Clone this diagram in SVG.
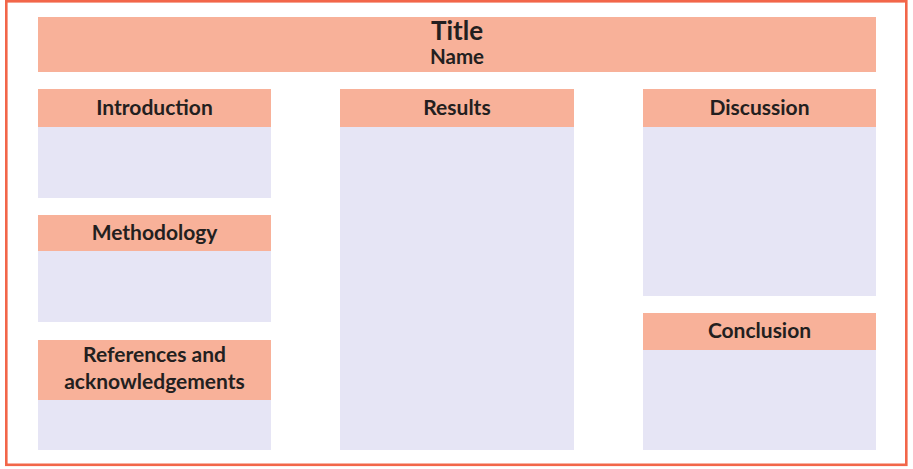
<svg xmlns="http://www.w3.org/2000/svg" width="913" height="469" viewBox="0 0 913 469">
<style>
.hd{fill:#F8B199}
.bd{fill:#E6E5F5}
.t{font-family:Lato,"Open Sans",sans-serif;font-weight:bold;fill:#231F20;text-anchor:middle;font-size:21px}
</style>
<rect x="0" y="0" width="913" height="469" fill="#fff"/>
<rect x="6.3" y="1.3" width="900" height="463.5" fill="#fff" stroke="#F26649" stroke-width="2.6"/>
<g id="title">
<rect class="hd" x="38" y="17" width="838" height="55"/>
<text class="t" x="457" y="39.5" style="font-size:26px">Title</text>
<text class="t" x="457" y="63.5" style="font-size:20.5px">Name</text>
</g>
<g id="introduction">
<rect class="hd" x="38" y="89" width="233" height="38"/>
<rect class="bd" x="38" y="127" width="233" height="71"/>
<text class="t" x="154.5" y="115">Introduction</text>
</g>
<g id="methodology">
<rect class="hd" x="38" y="215" width="233" height="36"/>
<rect class="bd" x="38" y="251" width="233" height="71"/>
<text class="t" x="154.5" y="240">Methodology</text>
</g>
<g id="references">
<rect class="hd" x="38" y="340" width="233" height="60"/>
<rect class="bd" x="38" y="400" width="233" height="50"/>
<text class="t" x="154.5" y="362">References and</text>
<text class="t" x="154.5" y="389">acknowledgements</text>
</g>
<g id="results">
<rect class="hd" x="340" y="89" width="234" height="38"/>
<rect class="bd" x="340" y="127" width="234" height="323"/>
<text class="t" x="457" y="115">Results</text>
</g>
<g id="discussion">
<rect class="hd" x="643" y="89" width="233" height="38"/>
<rect class="bd" x="643" y="127" width="233" height="169"/>
<text class="t" x="759.5" y="115">Discussion</text>
</g>
<g id="conclusion">
<rect class="hd" x="643" y="313" width="233" height="37"/>
<rect class="bd" x="643" y="350" width="233" height="100"/>
<text class="t" x="759.5" y="338">Conclusion</text>
</g>
<g id="connectors"/>
</svg>
